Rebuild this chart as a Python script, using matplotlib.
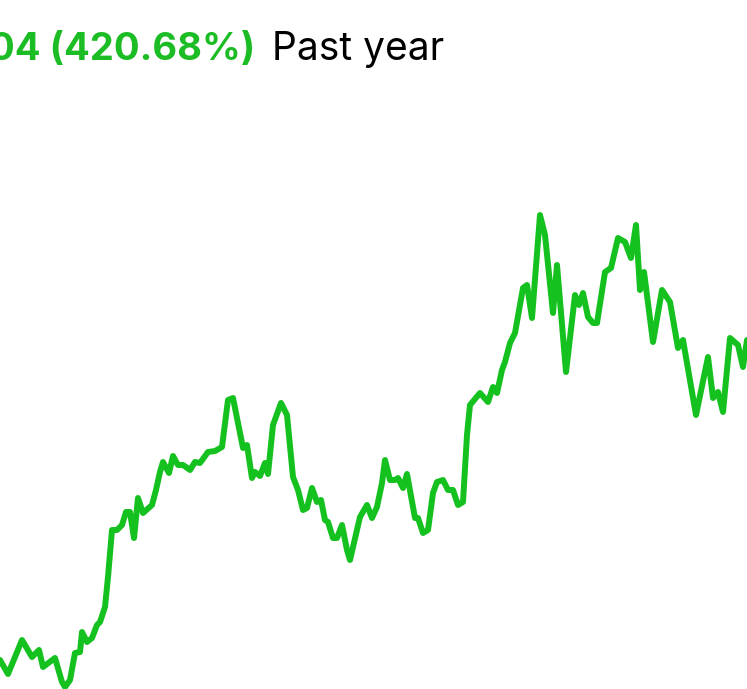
import matplotlib
matplotlib.use("Agg")
import matplotlib.pyplot as plt

# Time positions (trading-day axis, arbitrary units) and price readings
t = [0, 8, 22, 32, 39, 43, 55, 62, 65, 70, 75, 80, 82, 87, 92, 97, 100, 105, 108,
     112, 117, 122, 126, 130, 134, 138, 143, 152, 156, 160, 163, 169, 173, 178, 183,
     190, 195, 200, 208, 215, 222, 228, 233, 243, 247, 252, 255, 260, 265, 268, 273,
     281, 287, 293, 298, 303, 307, 312, 317, 321, 325, 328, 333, 337, 342, 347, 350,
     353, 360, 367, 372, 377, 382, 385, 390, 395, 398, 403, 407, 415, 418, 423, 428,
     433, 437, 443, 448, 453, 458, 463, 467, 470, 480, 488, 493, 497, 502, 505, 510,
     515, 523, 527, 532, 540, 545, 553, 557, 566, 575, 579, 583, 588, 593, 597, 605,
     611, 618, 625, 631, 636, 640, 644, 653, 662, 670, 678, 683, 696, 708, 713, 718,
     723, 730, 738, 743, 747]
ypx = [660, 674, 640, 657, 650, 667, 658, 682, 687, 680, 653, 652, 632, 642, 638, 625,
       622, 607, 577, 530, 530, 525, 512, 512, 538, 498, 513, 505, 490, 472, 462, 473,
       456, 465, 465, 470, 462, 463, 452, 451, 447, 400, 398, 448, 445, 478, 472, 476,
       463, 474, 425, 403, 415, 477, 490, 510, 508, 488, 502, 500, 520, 522, 538, 538,
       525, 550, 560, 547, 517, 505, 518, 507, 483, 460, 480, 480, 478, 488, 474, 518,
       518, 533, 530, 493, 482, 480, 490, 490, 505, 502, 435, 405, 393, 402, 387, 393,
       370, 362, 343, 333, 288, 285, 318, 215, 235, 313, 265, 372, 295, 305, 293, 317,
       323, 323, 272, 268, 238, 242, 258, 225, 290, 272, 342, 290, 302, 348, 340, 415,
       357, 398, 392, 412, 338, 345, 367, 340]
price = [(689 - v) / 10.0 for v in ypx]

change_text = "04 (420.68%)"
period_text = " Past year"

GREEN = "#14c11f"

fig = plt.figure(figsize=(7.47, 6.89), dpi=100)
ax = fig.add_axes([0, 0, 1, 1])
ax.plot(t, price, color=GREEN, lw=4.3, solid_joinstyle="round", solid_capstyle="round")
ax.set_xlim(0, 747)
ax.set_ylim(0, 68.9)
ax.axis("off")

fig.text(255 / 747, 1 - 60 / 689, change_text, color="#1cbc24", fontsize=27.5,
         fontweight="bold", family="Inter", ha="right", va="baseline")
fig.text(261 / 747, 1 - 60 / 689, period_text, color="black", fontsize=28,
         family="Inter", ha="left", va="baseline")

fig.savefig("out.png", dpi=100, facecolor="white")
